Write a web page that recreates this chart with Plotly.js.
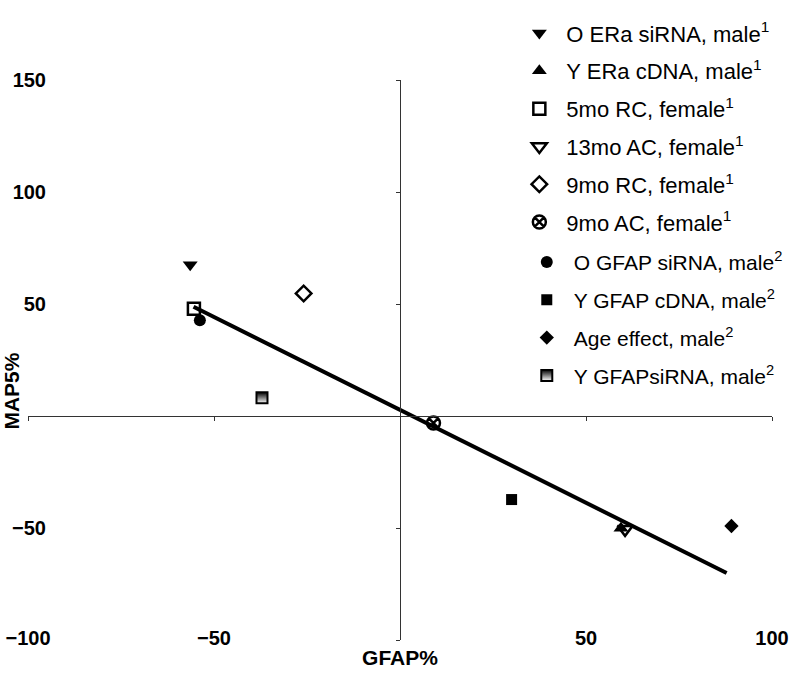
<!DOCTYPE html>
<html>
<head>
<meta charset="utf-8">
<script src="https://cdn.plot.ly/plotly-3.0.1.min.js"></script>
<style>
  html, body { margin: 0; padding: 0; background: #ffffff; }
  #chart { width: 800px; height: 677px; }
</style>
</head>
<body>
<div id="chart"></div>
<script>
// Legend labels, one per group of samples
const seriesNames = [
    'O ERa siRNA, male<sup>1</sup>',
    'Y ERa cDNA, male<sup>1</sup>',
    '5mo RC, female<sup>1</sup>',
    '13mo AC, female<sup>1</sup>',
    '9mo RC, female<sup>1</sup>',
    '9mo AC, female<sup>1</sup>',
    'O GFAP siRNA, male<sup>2</sup>',
    'Y GFAP cDNA, male<sup>2</sup>',
    'Age effect, male<sup>2</sup>',
    'Y GFAPsiRNA, male<sup>2</sup>'
];
// GFAP% (x) and MAP5% (y) for each group
const gfapValues = [-56.4, 59.4, -55.4, 60.5, -25.9, 9.0, -53.8, 30.0, 89.1, -37.1];
const map5Values = [67.5, -50.1, 47.9, -50.6, 54.7, -3.1, 42.7, -37.3, -49.1, 8.1];
const refGroup = [1, 1, 1, 1, 1, 1, 2, 2, 2, 2];

// regression line end points
const fitGfap = [-55.5, 87.8];
const fitMap5 = [48.8, -70.1];

// tick labels (no label at the origin; the -100 corner label is shared)
const xTickVals = [-100, -50, 50, 100];
const yTickVals = [-50, 50, 100, 150];
const xAxisTicks = [-100, -50, 0, 50, 100];
const yAxisTicks = [-100, -50, 0, 50, 100, 150];

const markerStyles = [
    { symbol: 'triangle-down', size: 13, color: 'black' },
    { symbol: 'triangle-up', size: 13, color: 'black' },
    { symbol: 'square-open', size: 12, color: 'black', line: { width: 2.5, color: 'black' } },
    { symbol: 'triangle-down-open', size: 13, color: 'black', line: { width: 2.5, color: 'black' } },
    { symbol: 'diamond-open', size: 12, color: 'black', line: { width: 2.5, color: 'black' } },
    { symbol: 'circle-x-open', size: 13, color: 'black', line: { width: 2.5, color: 'black' } },
    { symbol: 'circle', size: 12, color: 'black' },
    { symbol: 'square', size: 11, color: 'black' },
    { symbol: 'diamond', size: 11, color: 'black' },
    // top half black, bottom half white
    { symbol: 'square', size: 11, color: 'black', line: { width: 2, color: 'black' },
      gradient: { type: 'vertical', color: 'white' } }
];

const traces = [];

// trend line sits under the markers
traces.push({
    x: fitGfap,
    y: fitMap5,
    type: 'scatter',
    mode: 'lines',
    line: { color: 'black', width: 4 },
    showlegend: false,
    hoverinfo: 'skip'
});

seriesNames.forEach((name, i) => {
    traces.push({
        x: [gfapValues[i]],
        y: [map5Values[i]],
        xaxis: 'x2',
        yaxis: 'y2',
        type: 'scatter',
        mode: 'markers',
        name: name,
        legend: refGroup[i] === 1 ? 'legend' : 'legend2',
        legendgroup: 'g' + i,
        marker: markerStyles[i]
    });
});

// empty trace so the title-only axis gets drawn
traces.push({ x: [], y: [], yaxis: 'y3', type: 'scatter', mode: 'markers', showlegend: false });

const tickFont = { family: 'Liberation Sans, Arial, sans-serif', size: 20, color: 'black', weight: 'bold' };
const titleFont = { family: 'Liberation Sans, Arial, sans-serif', size: 21, color: 'black', weight: 'bold' };
const legendFont = { family: 'Liberation Sans, Arial, sans-serif', size: 22, color: 'black' };
const legend2Font = { family: 'Liberation Sans, Arial, sans-serif', size: 21, color: 'black' };

const layout = {
    width: 800,
    height: 677,
    margin: { l: 28, r: 19, t: 55, b: 37 },
    paper_bgcolor: '#ffffff',
    plot_bgcolor: 'rgba(0,0,0,0)',
    showlegend: true,
    // axes that cross at the origin
    xaxis: {
        range: [-100, 100],
        anchor: 'free',
        position: 0.4,
        showline: true,
        linecolor: '#333333',
        linewidth: 1,
        ticks: 'outside',
        ticklen: 4,
        tickcolor: '#333333',
        tickvals: xAxisTicks,
        showticklabels: false,
        showgrid: false,
        zeroline: false,
        fixedrange: true
    },
    yaxis: {
        range: [-100, 150],
        anchor: 'free',
        position: 0.5,
        showline: true,
        linecolor: '#333333',
        linewidth: 1,
        ticks: 'outside',
        ticklen: 4,
        tickcolor: '#333333',
        tickvals: yAxisTicks,
        showticklabels: false,
        showgrid: false,
        zeroline: false,
        fixedrange: true
    },
    // tick labels along the outer edges
    xaxis2: {
        overlaying: 'x',
        matches: 'x',
        anchor: 'y',
        side: 'bottom',
        showline: false,
        showgrid: false,
        zeroline: false,
        ticks: '',
        tickvals: xTickVals,
        tickfont: tickFont,
        ticklabelstandoff: -16,
        title: { text: 'GFAP%', font: titleFont, standoff: 2 }
    },
    yaxis2: {
        overlaying: 'y',
        matches: 'y',
        anchor: 'x',
        side: 'left',
        showline: false,
        showgrid: false,
        zeroline: false,
        ticks: '',
        tickvals: yTickVals,
        tickfont: tickFont,
        ticklabelstandoff: -19
    },
    // holds only the y title, centred a bit below the middle
    yaxis3: {
        domain: [0, 0.889],
        anchor: 'x',
        side: 'left',
        range: [0, 1],
        showline: false,
        showgrid: false,
        zeroline: false,
        ticks: '',
        showticklabels: false,
        title: { text: 'MAP5%', font: titleFont, standoff: 4 }
    },
    legend: {
        x: 0.651,
        y: 1.121,
        xanchor: 'left',
        yanchor: 'top',
        bgcolor: 'rgba(0,0,0,0)',
        borderwidth: 0,
        font: legendFont,
        itemwidth: 44,
        tracegroupgap: 6.2
    },
    legend2: {
        x: 0.661,
        y: 0.711,
        xanchor: 'left',
        yanchor: 'top',
        bgcolor: 'rgba(0,0,0,0)',
        borderwidth: 0,
        font: legend2Font,
        itemwidth: 44,
        tracegroupgap: 7.5
    }
};

Plotly.newPlot('chart', traces, layout, { displayModeBar: false, staticPlot: true });
</script>
</body>
</html>
